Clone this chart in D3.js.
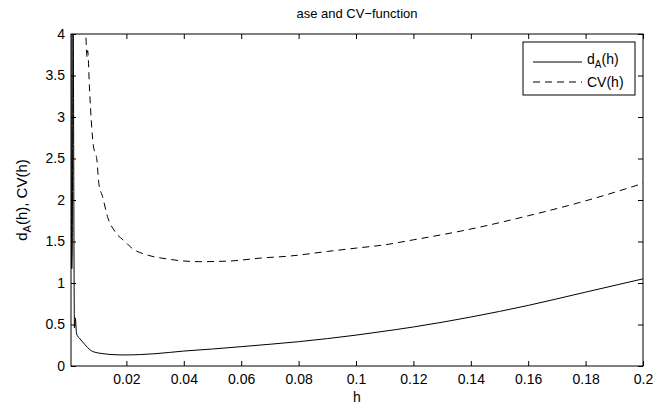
<!DOCTYPE html>
<html>
<head>
<meta charset="utf-8">
<script src="https://cdn.jsdelivr.net/npm/d3@7"></script>
<style>
  body { margin: 0; background: #fff; }
  text { font-family: "Liberation Sans", Arial, sans-serif; fill: #000; }
</style>
</head>
<body>
<div id="chart"></div>
<script>
// values
const hA = [0.0007, 0.00095, 0.00115, 0.0014, 0.0019, 0.0022, 0.0026, 0.0030, 0.0035,
            0.0045, 0.0055, 0.0075, 0.010, 0.0115, 0.014, 0.0195, 0.025, 0.03, 0.04,
            0.05, 0.06, 0.07, 0.08, 0.09, 0.1, 0.108, 0.12, 0.14, 0.16, 0.18, 0.2];
const dA = [4.6, 1.17, 1.42, 4.5, 0.46, 0.58, 0.40, 0.36, 0.34,
            0.30, 0.26, 0.19, 0.158, 0.15, 0.14, 0.133, 0.138, 0.148, 0.18,
            0.205, 0.233, 0.262, 0.293, 0.33, 0.372, 0.41, 0.47, 0.59, 0.73, 0.89, 1.05];

const hCV = [0.0058, 0.0063, 0.0065, 0.0072, 0.00843, 0.00972, 0.0104, 0.0117, 0.0136,
             0.016, 0.0195, 0.0219, 0.0271, 0.0341, 0.0456, 0.0561, 0.0666, 0.077,
             0.09, 0.1, 0.11, 0.12, 0.14, 0.16, 0.18, 0.2];
const cv = [4.1, 3.72, 3.8, 3.3, 2.67, 2.48, 2.2, 2.04, 1.78,
            1.62, 1.50, 1.42, 1.34, 1.29, 1.257, 1.265, 1.30, 1.325,
            1.38, 1.42, 1.46, 1.52, 1.65, 1.81, 1.99, 2.2];

const xTicks = [0.02, 0.04, 0.06, 0.08, 0.1, 0.12, 0.14, 0.16, 0.18, 0.2];
const yTicks = [0, 0.5, 1, 1.5, 2, 2.5, 3, 3.5, 4];

const width = 655;
const height = 407;
const margin = { top: 34, right: 12, bottom: 41, left: 71 };
const w = width - margin.left - margin.right;
const ht = height - margin.top - margin.bottom;

const x = d3.scaleLinear().domain([0.0007, 0.2]).range([0, w]);
const y = d3.scaleLinear().domain([0, 4]).range([ht, 0]);

const svg = d3.select("#chart").append("svg")
    .attr("width", width)
    .attr("height", height);

const g = svg.append("g")
    .attr("transform", "translate(" + margin.left + "," + margin.top + ")");

svg.append("defs").append("clipPath").attr("id", "clip")
    .append("rect").attr("width", w).attr("height", ht);

// axes, ticks inside like matlab
const fmt = d => String(d);
const xb = g.append("g").attr("transform", "translate(0," + ht + ")")
    .call(d3.axisBottom(x).tickValues(xTicks).tickFormat(fmt).tickSizeInner(-5).tickSizeOuter(0).tickPadding(8));
const xt = g.append("g")
    .call(d3.axisTop(x).tickValues(xTicks).tickFormat("").tickSizeInner(-5).tickSizeOuter(0));
const yl = g.append("g")
    .call(d3.axisLeft(y).tickValues(yTicks).tickFormat(fmt).tickSizeInner(-5).tickSizeOuter(0).tickPadding(6));
const yr = g.append("g").attr("transform", "translate(" + w + ",0)")
    .call(d3.axisRight(y).tickValues(yTicks).tickFormat("").tickSizeInner(-5).tickSizeOuter(0));

[xb, xt, yl, yr].forEach(a => {
    a.select(".domain").remove();
    a.selectAll("line").attr("stroke", "#000");
    a.selectAll("text").attr("font-size", 14).attr("font-family", "Liberation Sans, Arial, sans-serif");
});

const line = d3.line()
    .x((d, i) => d[0])
    .y(d => d[1])
    .curve(d3.curveMonotoneX);

const ptsA = hA.map((h, i) => [x(h), y(dA[i])]);
const ptsCV = hCV.map((h, i) => [x(h), y(cv[i])]);

const plot = g.append("g").attr("clip-path", "url(#clip)");
plot.append("path").datum(ptsA)
    .attr("fill", "none").attr("stroke", "#000").attr("stroke-width", 1)
    .attr("d", line);
plot.append("path").datum(ptsCV)
    .attr("fill", "none").attr("stroke", "#000").attr("stroke-width", 1)
    .attr("stroke-dasharray", "7,5")
    .attr("d", line);

g.append("rect")
    .attr("width", w).attr("height", ht)
    .attr("fill", "none").attr("stroke", "#000").attr("stroke-width", 1);

// title and labels
svg.append("text")
    .attr("x", margin.left + w / 2).attr("y", 18)
    .attr("text-anchor", "middle").attr("font-size", 13)
    .text("ase and CV\u2212function");

svg.append("text")
    .attr("x", margin.left + w / 2).attr("y", 402)
    .attr("text-anchor", "middle").attr("font-size", 14)
    .text("h");

const ylab = svg.append("text")
    .attr("transform", "translate(27," + (margin.top + ht / 2) + ") rotate(-90)")
    .attr("text-anchor", "middle").attr("font-size", 15);
ylab.append("tspan").text("d");
ylab.append("tspan").attr("font-size", 11).attr("dy", 4).text("A");
ylab.append("tspan").attr("dy", -4).text("(h), CV(h)");

// legend
const lg = svg.append("g").attr("transform", "translate(523,42)");
lg.append("rect").attr("width", 112).attr("height", 53)
    .attr("fill", "#fff").attr("stroke", "#000").attr("stroke-width", 1);
lg.append("line").attr("x1", 10).attr("x2", 59).attr("y1", 20).attr("y2", 20)
    .attr("stroke", "#000");
lg.append("line").attr("x1", 10).attr("x2", 59).attr("y1", 40).attr("y2", 40)
    .attr("stroke", "#000").attr("stroke-dasharray", "7,5");
const t1 = lg.append("text").attr("x", 64).attr("y", 22).attr("font-size", 14);
t1.append("tspan").text("d");
t1.append("tspan").attr("font-size", 10).attr("dy", 4).text("A");
t1.append("tspan").attr("dy", -4).text("(h)");
lg.append("text").attr("x", 64).attr("y", 45).attr("font-size", 14).text("CV(h)");
</script>
</body>
</html>
